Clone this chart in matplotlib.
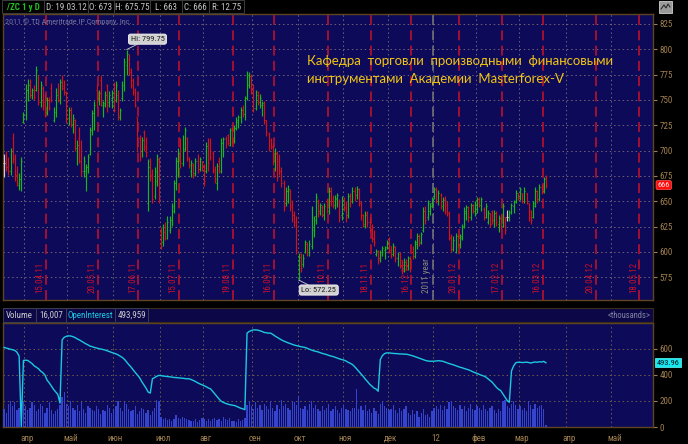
import numpy as np
import pandas as pd
import matplotlib
matplotlib.use('Agg')
import matplotlib.pyplot as plt
import matplotlib.transforms as mtrans
from matplotlib import font_manager as fm
from matplotlib.patches import Rectangle

# ---------------- DATA ----------------
opens = [
    688,690,684,680,712,694,676,666,672,728,
    735,760,765,755,760,760,772,748,762,748,
    738,750,762,730,738,758,750,768,764,758,
    732,740,726,730,703,712,690,680,680,684,
    697,720,737,760,752,770,745,745,765,748,
    752,765,750,755,733,752,765,785,790,780,
    770,760,733,712,700,718,705,648,690,676,
    655,670,690,620,610,620,615,622,632,640,
    668,690,705,688,702,712,692,680,686,678,
    690,682,690,684,680,705,700,698,682,668,
    690,680,708,712,715,706,722,710,722,728,
    733,740,736,752,765,774,762,742,758,748,
    745,745,730,716,710,705,690,697,690,680,
    668,648,660,660,646,636,628,592,598,588,
    600,608,600,606,622,635,650,640,644,636,
    650,640,660,650,646,652,650,636,652,644,
    636,655,650,660,656,662,648,636,626,638,
    630,626,614,598,600,594,598,602,605,608,
    606,598,605,594,598,592,584,590,586,594,
    600,596,608,616,610,622,640,634,640,648,
    655,662,650,656,645,652,646,638,614,603,
    600,616,608,614,626,638,644,634,646,640,
    642,652,646,642,634,630,638,640,632,638,
    628,633,626,634,634,634,638,645,650,658,
    653,658,650,658,648,640,634,645,660,652,
    664,660,673]
highs = [
    697,700,694,703,717,697,685,678,694,738,
    766,771,771,762,765,784,775,769,764,756,
    753,753,767,743,762,767,771,775,770,759,
    743,743,736,731,710,723,710,695,687,697,
    723,740,749,766,760,775,749,759,766,759,
    760,768,769,760,742,769,791,799.75,795,782,
    772,762,733,715,713,720,713,692,693,682,
    684,697,694,625,628,630,635,635,648,671,
    694,703,712,715,723,713,694,691,688,693,
    697,694,690,687,709,712,712,700,685,688,
    694,712,713,714,716,722,723,725,733,735,
    743,745,754,779,778,776,766,760,759,756,
    749,749,730,718,712,708,703,700,697,684,
    671,664,666,662,651,640,635,599,599,598,
    612,610,612,645,635,658,652,648,646,648,
    652,664,664,656,656,658,652,655,654,650,
    658,658,664,664,665,663,650,637,640,640,
    634,628,622,603,602,602,606,606,612,615,
    606,609,606,600,600,592,594,593,596,596,
    606,612,619,618,620,644,645,651,648,654,
    664,664,661,658,654,655,650,640,618,616,
    619,618,618,628,644,646,645,648,647,650,
    654,654,654,644,648,641,638,641,641,640,
    636,636,648,634,641,641,648,651,661,658,
    664,658,664,658,648,641,650,664,661,667,
    667,674,675.75]
lows = [
    674,680,676,676,688,670,665,661,660,727,
    730,749,752,751,750,759,745,743,740,733,
    735,740,748,728,733,748,746,760,755,727,
    725,723,717,700,686,688,675,674,660,678,
    696,715,720,743,745,744,733,743,738,743,
    742,738,748,730,730,749,759,775,775,762,
    755,743,700,690,694,700,694,640,670,648,
    652,665,648,603,606,612,613,619,626,638,
    661,674,683,685,700,690,683,674,673,675,
    678,680,680,665,678,680,691,678,668,661,
    678,678,694,703,706,705,707,708,720,722,
    727,733,730,750,762,756,738,740,745,742,
    734,726,714,700,702,686,680,670,676,664,
    640,645,648,640,630,625,598,572.25,580,585,
    599,596,596,603,615,628,634,636,634,632,
    638,637,645,643,642,644,630,632,640,630,
    633,644,648,650,652,645,632,625,624,625,
    620,610,606,596,588,590,596,593,603,599,
    594,596,590,586,584,578,580,582,582,580,
    593,594,603,606,608,620,628,632,636,644,
    652,648,646,642,640,637,635,612,600,601,
    599,605,604,612,624,632,630,632,638,635,
    638,644,640,632,633,628,625,628,625,626,
    620,623,625,618,631,631,637,638,648,651,
    651,648,648,647,631,628,633,644,648,650,
    657,658,663]
closes = [
    688,684,680,700,692,676,668,672,690,735,
    760,765,755,760,753,780,748,765,745,736,
    750,742,750,740,755,750,768,762,758,732,
    740,726,732,703,706,690,680,690,684,694,
    720,737,745,748,757,748,747,755,745,755,
    757,740,765,735,740,765,787,795,778,765,
    758,745,705,695,710,703,699,684,675,652,
    680,692,652,606,625,614,630,632,645,668,
    690,698,688,712,720,694,686,688,676,690,
    682,692,684,670,705,688,694,680,672,685,
    680,708,711,705,708,720,710,722,730,733,
    740,736,752,775,774,760,742,755,748,752,
    747,730,718,703,704,690,698,674,680,668,
    645,660,662,644,636,630,602,595,584,594,
    610,600,608,640,632,654,638,646,637,645,
    640,660,650,646,653,656,634,650,643,634,
    655,650,660,655,662,648,636,628,636,630,
    624,613,610,601,592,600,604,603,610,602,
    598,606,594,598,587,581,590,586,594,584,
    596,610,616,609,618,640,632,648,645,652,
    662,650,658,645,651,640,638,615,603,612,
    616,608,616,625,640,644,634,646,640,646,
    652,646,652,634,645,638,628,632,638,630,
    633,626,645,622,634,639,646,649,658,653,
    662,650,660,650,634,632,648,660,652,664,
    659,672,666]
# volume, thousands of contracts
volume = [
    140,110,180,200,165,190,130,150,175,200,
    160,130,150,190,170,120,140,180,160,110,
    150,190,130,100,120,140,170,230,270,180,
    160,200,150,130,170,120,190,140,110,160,
    150,130,120,160,140,100,130,120,170,150,
    110,130,160,200,150,120,190,180,140,120,
    130,160,100,120,150,140,110,130,90,120,
    150,210,200,80,60,70,55,65,50,60,
    90,70,60,80,70,60,55,50,45,60,
    40,55,70,60,50,65,45,60,70,55,
    65,50,75,60,55,70,45,50,40,60,
    45,55,70,170,200,160,140,190,150,170,
    130,180,160,140,200,150,120,170,140,210,
    160,180,150,130,200,190,170,230,150,140,
    160,130,180,200,150,170,140,120,160,130,
    150,180,120,140,160,130,110,150,170,140,
    130,120,150,150,290,140,160,130,170,120,
    140,110,150,120,100,180,200,160,150,130,
    140,170,130,110,150,120,140,160,110,90,
    130,100,120,80,110,140,90,100,80,120,
    150,160,140,170,130,160,140,190,200,160,
    150,130,170,140,160,120,150,180,140,130,
    160,150,130,170,140,120,150,160,130,110,
    140,120,200,210,160,150,180,200,170,140,
    160,130,150,120,200,170,140,180,150,160,
    170,140,16.007]
# open interest, thousands of contracts
open_interest = [
    612,607,603,598,594,589,575,545,5,512,
    514,512,500,488,470,460,448,430,418,400,
    360,340,315,290,270,250,184,670,690,698,
    701,700,695,688,678,670,660,650,640,632,
    622,618,612,608,603,600,596,592,586,580,
    574,568,563,555,545,535,520,500,480,462,
    440,420,400,380,350,325,300,269,261,371,
    380,390,397,395,392,390,388,386,384,381,
    380,378,377,375,373,371,371,365,358,350,
    340,332,325,318,310,300,294,275,255,235,
    215,198,189,182,176,172,168,166,160,152,
    145,140,133,722,735,742,747,747,745,740,
    735,727,725,722,722,712,700,690,680,670,
    662,655,648,642,636,630,626,622,618,615,
    612,605,598,592,586,582,578,572,566,562,
    557,551,546,542,536,530,524,519,515,508,
    498,490,481,465,447,428,408,390,368,350,
    330,315,300,292,275,519,550,565,570,570,
    568,566,565,564,562,562,560,560,557,552,
    548,542,536,530,524,518,512,508,506,506,
    506,508,510,508,506,500,494,488,483,478,
    472,466,460,456,450,445,440,433,425,418,
    412,405,398,393,385,372,360,345,325,305,
    290,280,255,230,204,190,431,470,494,498,
    498,496,497,499,496,492,497,500,498,502,
    500,505,493.959]
first_day = '2011-03-18'
last_day = '2012-03-19'
exchange_holidays = ['2011-04-22', '2011-05-30', '2011-07-04', '2011-09-05', '2011-11-24',
                     '2011-12-26', '2012-01-02', '2012-01-16', '2012-02-20']
expiry_dates = ['2011-04-15', '2011-05-20', '2011-06-17', '2011-07-15', '2011-08-19',
                '2011-09-16', '2011-10-21', '2011-11-18', '2011-12-16', '2012-01-20',
                '2012-02-17', '2012-03-16', '2012-04-20', '2012-05-18']
month_names = ['апр', 'май', 'июн', 'июл', 'авг', 'сен', 'окт', 'ноя', 'дек', '12',
               'фев', 'мар', 'апр', 'май']
price_ticks = [575, 600, 625, 650, 675, 700, 725, 750, 775, 800, 825]
volume_ticks = [0, 200, 400, 600]
symbol = '/ZC 1 y D'
watermark = '2011 © TD Ameritrade IP Company, Inc.'
title_lines = ['Кафедра  торговли  производными  финансовыми',
               'инструментами  Академии  Masterforex-V']

# ---------------- helpers ----------------
O = np.array(opens, float); Hh = np.array(highs, float)
L = np.array(lows, float); C = np.array(closes, float)
V = np.array(volume, float); OI = np.array(open_interest, float)
N = len(C)
idx = np.arange(N)

hol = set(pd.to_datetime(exchange_holidays))
last = pd.Timestamp(last_day)
bd = pd.bdate_range(first_day, '2012-06-29')
trade = [d for d in bd if not (d <= last and d in hol)]
pos = {d: k for k, d in enumerate(trade)}

avail = {f.name for f in fm.fontManager.ttflist}
def pick(names):
    for n in names:
        if n in avail:
            return n
    return 'DejaVu Sans'
NARROW = pick(['Liberation Sans Narrow', 'Roboto Condensed', 'Liberation Sans'])
TITLEF = pick(['Lato', 'Noto Sans', 'Open Sans'])

FW, FH = 688, 444
NAVY = '#0d0a5a'
TAN = '#a08050'
SPINE = '#5e4420'
GRID = '#6a6070'
REDD = '#cc1028'
GREEN = '#18b818'
RED = '#d41414'
NEUT = '#e0c8c8'
VBLUE = '#3444cc'
CYAN = '#1cc8e0'

fig = plt.figure(figsize=(FW / 100, FH / 100), dpi=100)
fig.patch.set_facecolor('black')

def rect(x0, y0, x1, y1):
    return [x0 / FW, 1 - y1 / FH, (x1 - x0) / FW, (y1 - y0) / FH]

XS = 2.15
XL = (-0.5, -0.5 + 650 / XS)

def style_axes(a):
    a.set_facecolor(NAVY)
    a.set_xlim(*XL)
    for s in a.spines.values():
        s.set_color(SPINE)
        s.set_linewidth(1.0)
    a.yaxis.tick_right()
    a.tick_params(axis='y', colors=TAN, labelsize=6.5, length=3, width=0.8, pad=1.5)
    for t in a.get_yticklabels():
        t.set_fontfamily(NARROW)

month_pos = []
for yy, mm in [(2011, m) for m in range(4, 13)] + [(2012, m) for m in range(1, 6)]:
    month_pos.append(next(pos[d] for d in trade if d.year == yy and d.month == mm))
month_pos = np.array(month_pos)
year_pos = next(pos[d] for d in trade if d.year == 2012)

# ---------------- main price panel ----------------
ax = fig.add_axes(rect(3, 14, 653, 300))
ax.set_ylim(552.54, 834.87)
ax.set_yticks(price_ticks)
ax.set_xticks([])
style_axes(ax)
for yv in price_ticks:
    ax.axhline(yv, color=GRID, lw=0.72, ls=(0, (1.5, 2.8)), zorder=1)
for mp in month_pos:
    ax.axvline(mp - 0.5, color=GRID, lw=0.72, ls=(0, (1.5, 2.8)), zorder=1)

btr = mtrans.blended_transform_factory(ax.transData, ax.transAxes)
for ds in expiry_dates:
    d = pd.Timestamp(ds)
    p = pos[d] - 0.5
    ax.axvline(p, color=REDD, lw=1.1, ls=(0, (6.5, 3.5)), zorder=2)
    ax.text(p - 0.7, 0.024, d.strftime('%d.%m.%y'), rotation=90, ha='right', va='bottom',
            color=REDD, fontsize=6.5, fontfamily=NARROW, transform=btr, zorder=2)
ax.axvline(year_pos - 0.5, color='#7a7a7a', lw=1.1, ls=(0, (6.5, 3.5)), zorder=2)
ax.text(year_pos - 1.2, 0.024, '2011 year', rotation=90, ha='right', va='bottom',
        color='#8a8a7a', fontsize=6.5, fontfamily=NARROW, transform=btr, zorder=2)

cols = np.where(C > O, GREEN, np.where(C < O, RED, NEUT))
ax.vlines(idx, L, Hh, colors=cols, lw=0.85, zorder=4)
ax.hlines(O, idx - 0.45, idx, colors=cols, lw=0.75, zorder=4)
ax.hlines(C, idx, idx + 0.45, colors=cols, lw=0.75, zorder=4)

ih = int(np.argmax(Hh)); il = int(np.argmin(L))
boxkw = dict(boxstyle='round,pad=0.25', fc='#d2d2d2', ec='#f4f4f4', lw=0.6)
ax.annotate(f'Hi: {Hh[ih]:g}', xy=(ih, Hh[ih]), xytext=(15, 7.5), textcoords='offset points',
            ha='center', va='center', fontsize=6, fontfamily=NARROW, color='#1a1a1a', bbox=boxkw,
            arrowprops=dict(arrowstyle='-', color='#d0d0d0', lw=0.6, shrinkA=0, shrinkB=0),
            zorder=9, annotation_clip=False)
ax.annotate(f'Lo: {L[il]:g}', xy=(il, L[il]), xytext=(14.5, -7.2), textcoords='offset points',
            ha='center', va='center', fontsize=6, fontfamily=NARROW, color='#1a1a1a', bbox=boxkw,
            arrowprops=dict(arrowstyle='-', color='#d0d0d0', lw=0.6, shrinkA=0, shrinkB=0),
            zorder=9, annotation_clip=False)

rtr = mtrans.blended_transform_factory(ax.transAxes, ax.transData)
ax.text(1.007, C[-1], f'{C[-1]:g}', transform=rtr, ha='left', va='center', fontsize=6,
        fontfamily=NARROW, color='#ffe4e4', clip_on=False, zorder=10,
        bbox=dict(boxstyle='round,pad=0.18', fc='#ff0c0c', ec='#ff5a5a', lw=0.5))

# ---------------- volume / open interest panel ----------------
ax2 = fig.add_axes(rect(3, 323, 653, 427))
ax2.set_ylim(0, 800)
ax2.set_yticks(volume_ticks)
style_axes(ax2)
ax2.set_xticks(month_pos + 0.8)
ax2.set_xticklabels(month_names)
ax2.tick_params(axis='x', colors=TAN, labelsize=6.5, length=0, pad=5)
for t in ax2.get_xticklabels():
    t.set_fontfamily(NARROW)
for yv in volume_ticks[1:]:
    ax2.axhline(yv, color='#6a5a48', lw=0.72, ls=(0, (1.5, 2.8)), zorder=1)
for mp in month_pos:
    ax2.axvline(mp - 0.5, color='#6a5a48', lw=0.72, ls=(0, (1.5, 2.8)), zorder=1)
ax2.bar(idx, V, width=0.6, color=VBLUE, zorder=3)
ax2.plot(idx, OI, color=CYAN, lw=1.0, zorder=4)
rtr2 = mtrans.blended_transform_factory(ax2.transAxes, ax2.transData)
ax2.text(1.006, OI[-1], f'{OI[-1]:.2f}', transform=rtr2, ha='left', va='center', fontsize=6,
         fontfamily=NARROW, color='#001018', clip_on=False, zorder=10,
         bbox=dict(boxstyle='square,pad=0.18', fc='#18e8f0', ec='#60ffff', lw=0.5))

# ---------------- overlay: headers and captions ----------------
ov = fig.add_axes([0, 0, 1, 1], zorder=20)
ov.set_xlim(0, FW); ov.set_ylim(FH, 0); ov.axis('off'); ov.patch.set_alpha(0)

hdr = [(2, 44, symbol, '#20c020'),
       (44, 88, 'D: ' + last.strftime('%d.%m.%y'), '#c8c8c8'),
       (88, 114, f'O: {O[-1]:g}', '#c8c8c8'),
       (114, 150, f'H: {Hh[-1]:g}', '#c8c8c8'),
       (150, 182, f'L: {L[-1]:g}', '#c8c8c8'),
       (182, 209, f'C: {C[-1]:g}', '#c8c8c8'),
       (209, 244, f'R: {Hh[-1] - L[-1]:g}', '#c8c8c8')]
ov.add_patch(Rectangle((0, 0), 653, 13, fc='black', ec='none'))
for x0, x1, txt, c in hdr:
    ov.add_patch(Rectangle((x0, 0.5), x1 - x0, 12.5, fc='black', ec='#3c3c3c', lw=0.7))
    ov.text((x0 + x1) / 2, 7, txt, ha='center', va='center', color=c, fontsize=6.5,
            fontfamily=NARROW, fontweight='bold' if c == '#20c020' else 'normal')
ov.add_patch(Rectangle((659, 1), 13, 12, fc='#9a9a9a', ec='#d0d0d0', lw=0.6))
ov.plot([661, 664, 666, 668, 670], [9, 5, 8, 4, 7], color='#202020', lw=0.7)

ov.text(5, 22, watermark, ha='left', va='center', color='#7878a0', fontsize=5.8, fontfamily=NARROW)
ov.text(307, 65, title_lines[0], ha='left', va='baseline', color='#f0c414', fontsize=9.5,
        fontfamily=TITLEF)
ov.text(307, 83, title_lines[1], ha='left', va='baseline', color='#f0c414', fontsize=9.5,
        fontfamily=TITLEF)

# volume header row
ov.add_patch(Rectangle((3, 308), 650, 14, fc='#0c0848', ec='#3a2c18', lw=0.8))
vh = [(3, 36, 'Volume', '#c8c8c8'),
      (36, 66, f'{V[-1] * 1000:,.0f}', '#c8c8c8'),
      (66, 115, 'OpenInterest', CYAN),
      (115, 148, f'{OI[-1] * 1000:,.0f}', '#c8c8c8')]
for x0, x1, txt, c in vh:
    ov.add_patch(Rectangle((x0, 308), x1 - x0, 14, fc='none', ec='#3c3c50', lw=0.7))
    ov.text((x0 + x1) / 2, 315, txt, ha='center', va='center', color=c, fontsize=6.5,
            fontfamily=NARROW)
ov.text(650, 315, '<thousands>', ha='right', va='center', color='#8080a0', fontsize=6.2,
        fontfamily=NARROW)

fig.savefig('out.png', dpi=100, facecolor='black')
